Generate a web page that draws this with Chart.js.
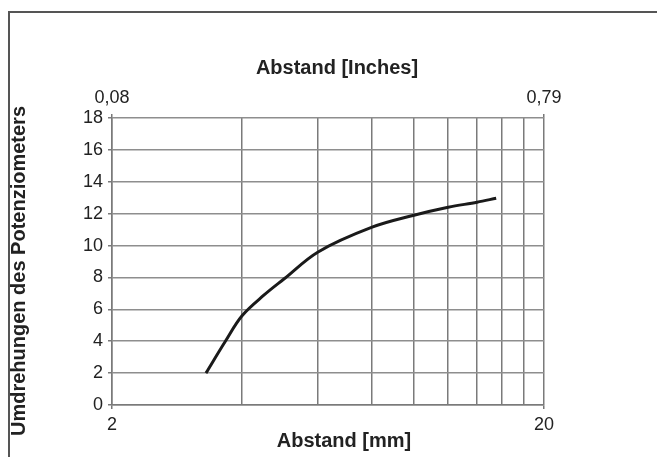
<!DOCTYPE html>
<html>
<head>
<meta charset="utf-8">
<script src="https://cdn.jsdelivr.net/npm/chart.js@4"></script>
<style>
    html, body { margin: 0; padding: 0; background: #fff; }
    #wrap { position: relative; width: 657px; height: 457px; }
    #frame {
        position: absolute; left: 8px; top: 11px; right: 0; bottom: 0;
        border-top: 2px solid #555; border-left: 2px solid #555;
        pointer-events: none;
    }
    canvas { position: absolute; left: 0; top: 0; }
</style>
</head>
<body>
<div id="wrap">
    <canvas id="chart" width="657" height="457"></canvas>
    <div id="frame"></div>
</div>
<script>
// DATEN
const abstandMm = [3.3, 3.66, 4, 4.5, 5, 6, 8, 10, 12, 14, 15.5];
const umdrehungen = [2, 4, 5.6, 6.9, 7.9, 9.6, 11.15, 11.9, 12.4, 12.72, 12.97];
const gridMm = [2, 4, 6, 8, 10, 12, 14, 16, 18, 20];
const labelsMm = { 2: '2', 20: '20' };
const labelsInch = { 2: '0,08', 20: '0,79' };

const titleX = 'Abstand [mm]';
const titleX2 = 'Abstand [Inches]';
const titleY = 'Umdrehungen des Potenziometers';

const points = abstandMm.map((x, i) => ({ x: x, y: umdrehungen[i] }));
const tickFont = { family: 'Liberation Sans, Arial, sans-serif', size: 18 };

// TITEL ZEICHNEN
const titlesPlugin = {
    id: 'titles',
    afterDraw(chart) {
        const ctx = chart.ctx;
        ctx.save();
        ctx.fillStyle = '#222';
        ctx.font = 'bold 20px Liberation Sans, Arial, sans-serif';
        ctx.textAlign = 'center';
        ctx.textBaseline = 'middle';
        ctx.fillText(titleX2, 337, 68);
        ctx.fillText(titleX, 344, 441);
        ctx.translate(19, 271);
        ctx.rotate(-Math.PI / 2);
        ctx.fillText(titleY, 0, 0);
        ctx.restore();
    }
};

const endTick = (c) => (c.tick && (c.tick.value === 2 || c.tick.value === 20)) ? '#777' : 'rgba(0,0,0,0)';

new Chart(document.getElementById('chart'), {
    type: 'line',
    data: {
        datasets: [{
            data: points,
            borderColor: '#1a1a1a',
            borderWidth: 3,
            pointRadius: 0,
            tension: 0.35,
            fill: false
        }]
    },
    options: {
        responsive: false,
        animation: false,
        layout: { padding: { left: 0, right: 113, top: 0, bottom: 0 } },
        plugins: { legend: { display: false }, tooltip: { enabled: false } },
        scales: {
            x: {
                type: 'logarithmic',
                position: 'bottom',
                min: 2,
                max: 20,
                afterBuildTicks: (s) => { s.ticks = gridMm.map(v => ({ value: v })); },
                afterFit: (s) => { s.height = 52; },
                ticks: {
                    autoSkip: false,
                    maxRotation: 0,
                    padding: 5,
                    color: '#222',
                    font: tickFont,
                    callback: (v) => labelsMm[v] || ''
                },
                grid: { color: '#7a7a7a', lineWidth: 1.5, tickLength: 4, tickColor: endTick },
                border: { color: '#7a7a7a', width: 1.5 }
            },
            x2: {
                type: 'logarithmic',
                position: 'top',
                min: 2,
                max: 20,
                afterBuildTicks: (s) => { s.ticks = gridMm.map(v => ({ value: v })); },
                afterFit: (s) => { s.height = 118; },
                ticks: {
                    autoSkip: false,
                    maxRotation: 0,
                    padding: 5,
                    color: '#222',
                    font: tickFont,
                    callback: (v) => labelsInch[v] || ''
                },
                grid: { drawOnChartArea: false, tickLength: 4, lineWidth: 1.5, tickColor: endTick },
                border: { display: false }
            },
            y: {
                min: 0,
                max: 18,
                afterFit: (s) => { s.width = 112; },
                ticks: {
                    stepSize: 2,
                    padding: 5,
                    color: '#222',
                    font: tickFont
                },
                grid: { color: '#8e8e8e', lineWidth: 1.5, tickLength: 4, tickColor: '#7a7a7a' },
                border: { color: '#7a7a7a', width: 1.5 }
            }
        }
    },
    plugins: [titlesPlugin]
});
</script>
</body>
</html>
